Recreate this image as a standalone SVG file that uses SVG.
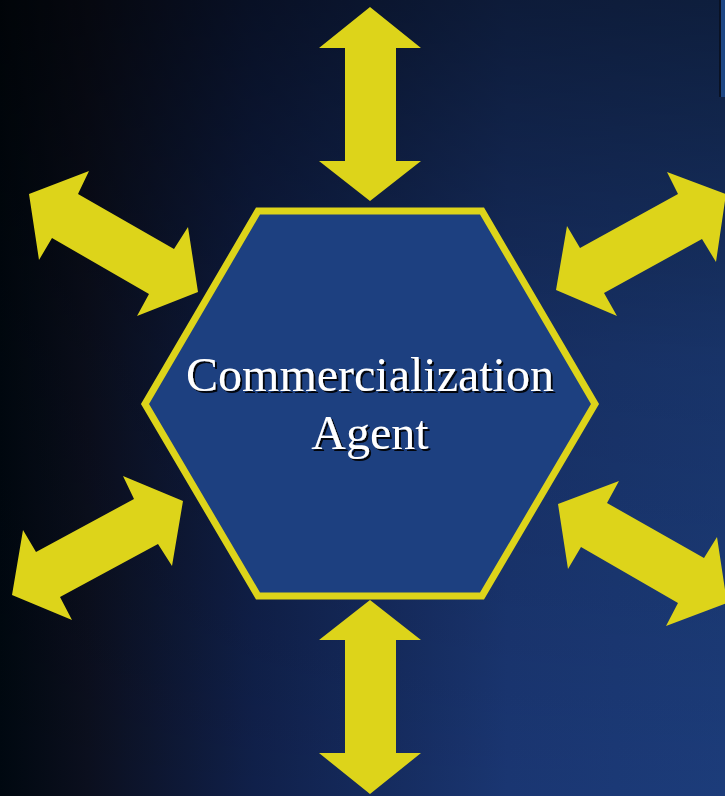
<svg xmlns="http://www.w3.org/2000/svg" width="725" height="796" viewBox="0 0 725 796">
  <defs>
    <linearGradient id="bgH" x1="0" y1="0" x2="1" y2="0">
      <stop offset="0" stop-color="#000810"/>
      <stop offset="0.12" stop-color="#0b0f1e"/>
      <stop offset="0.35" stop-color="#10204a"/>
      <stop offset="0.7" stop-color="#1a3672"/>
      <stop offset="1" stop-color="#1c3c7a"/>
    </linearGradient>
    <linearGradient id="bgV" x1="0" y1="0" x2="0" y2="1">
      <stop offset="0" stop-color="#000000" stop-opacity="0.5"/>
      <stop offset="0.45" stop-color="#000000" stop-opacity="0.15"/>
      <stop offset="1" stop-color="#000000" stop-opacity="0"/>
    </linearGradient>
    <filter id="shadow" x="-10%" y="-30%" width="120%" height="160%">
      <feOffset in="SourceAlpha" dx="2" dy="2" result="off"/>
      <feFlood flood-color="#000000" flood-opacity="0.9"/>
      <feComposite in2="off" operator="in" result="sh"/>
      <feMerge>
        <feMergeNode in="sh"/>
        <feMergeNode in="SourceGraphic"/>
      </feMerge>
    </filter>
    <style>
      .arrow { fill: #ddd41a; }
      .hex { fill: #1d4080; stroke: #ddd41a; stroke-width: 7; }
      .label { font-family: "Liberation Serif", "Times New Roman", serif; font-size: 48px; text-anchor: middle; fill: #ffffff; filter: url(#shadow); }
    </style>
  </defs>

  <g id="background">
    <rect x="0" y="0" width="725" height="796" fill="url(#bgH)"/>
    <rect x="0" y="0" width="725" height="796" fill="url(#bgV)"/>
    <rect x="719" y="0" width="2" height="97" fill="#0a1224"/>
    <rect x="721" y="0" width="4" height="97" fill="#1d4684"/>
  </g>

  <g id="connectors">
    <polygon class="arrow" points="370,7 421,48 396,48 396,161 421,161 370,201 319,161 345,161 345,48 319,48"/>
    <polygon class="arrow" points="370,600 421,640 396,640 396,753 421,753 370,794 319,753 345,753 345,640 319,640"/>
    <polygon class="arrow" points="29,194 89,171 78,194 174,249 188,227 198,292 137,316 149,294 52,238 39,260"/>
    <polygon class="arrow" points="556,290 617,316 604,293 702,239 716,262 726,194 667,172 678,194 580,248 567,226"/>
    <polygon class="arrow" points="12,595 72,620 60,597 158,544 172,566 183,501 123,476 134,499 36,552 23,530"/>
    <polygon class="arrow" points="558,504 619,481 607,503 704,558 717,537 727,603 666,626 678,603 581,547 568,569"/>
  </g>

  <g id="node-agent">
    <polygon class="hex" points="258,211 482,211 595,404 482,596 258,596 145,404"/>
    <text class="label" x="370" y="391">Commercialization</text>
    <text class="label" x="370" y="449">Agent</text>
  </g>
</svg>
